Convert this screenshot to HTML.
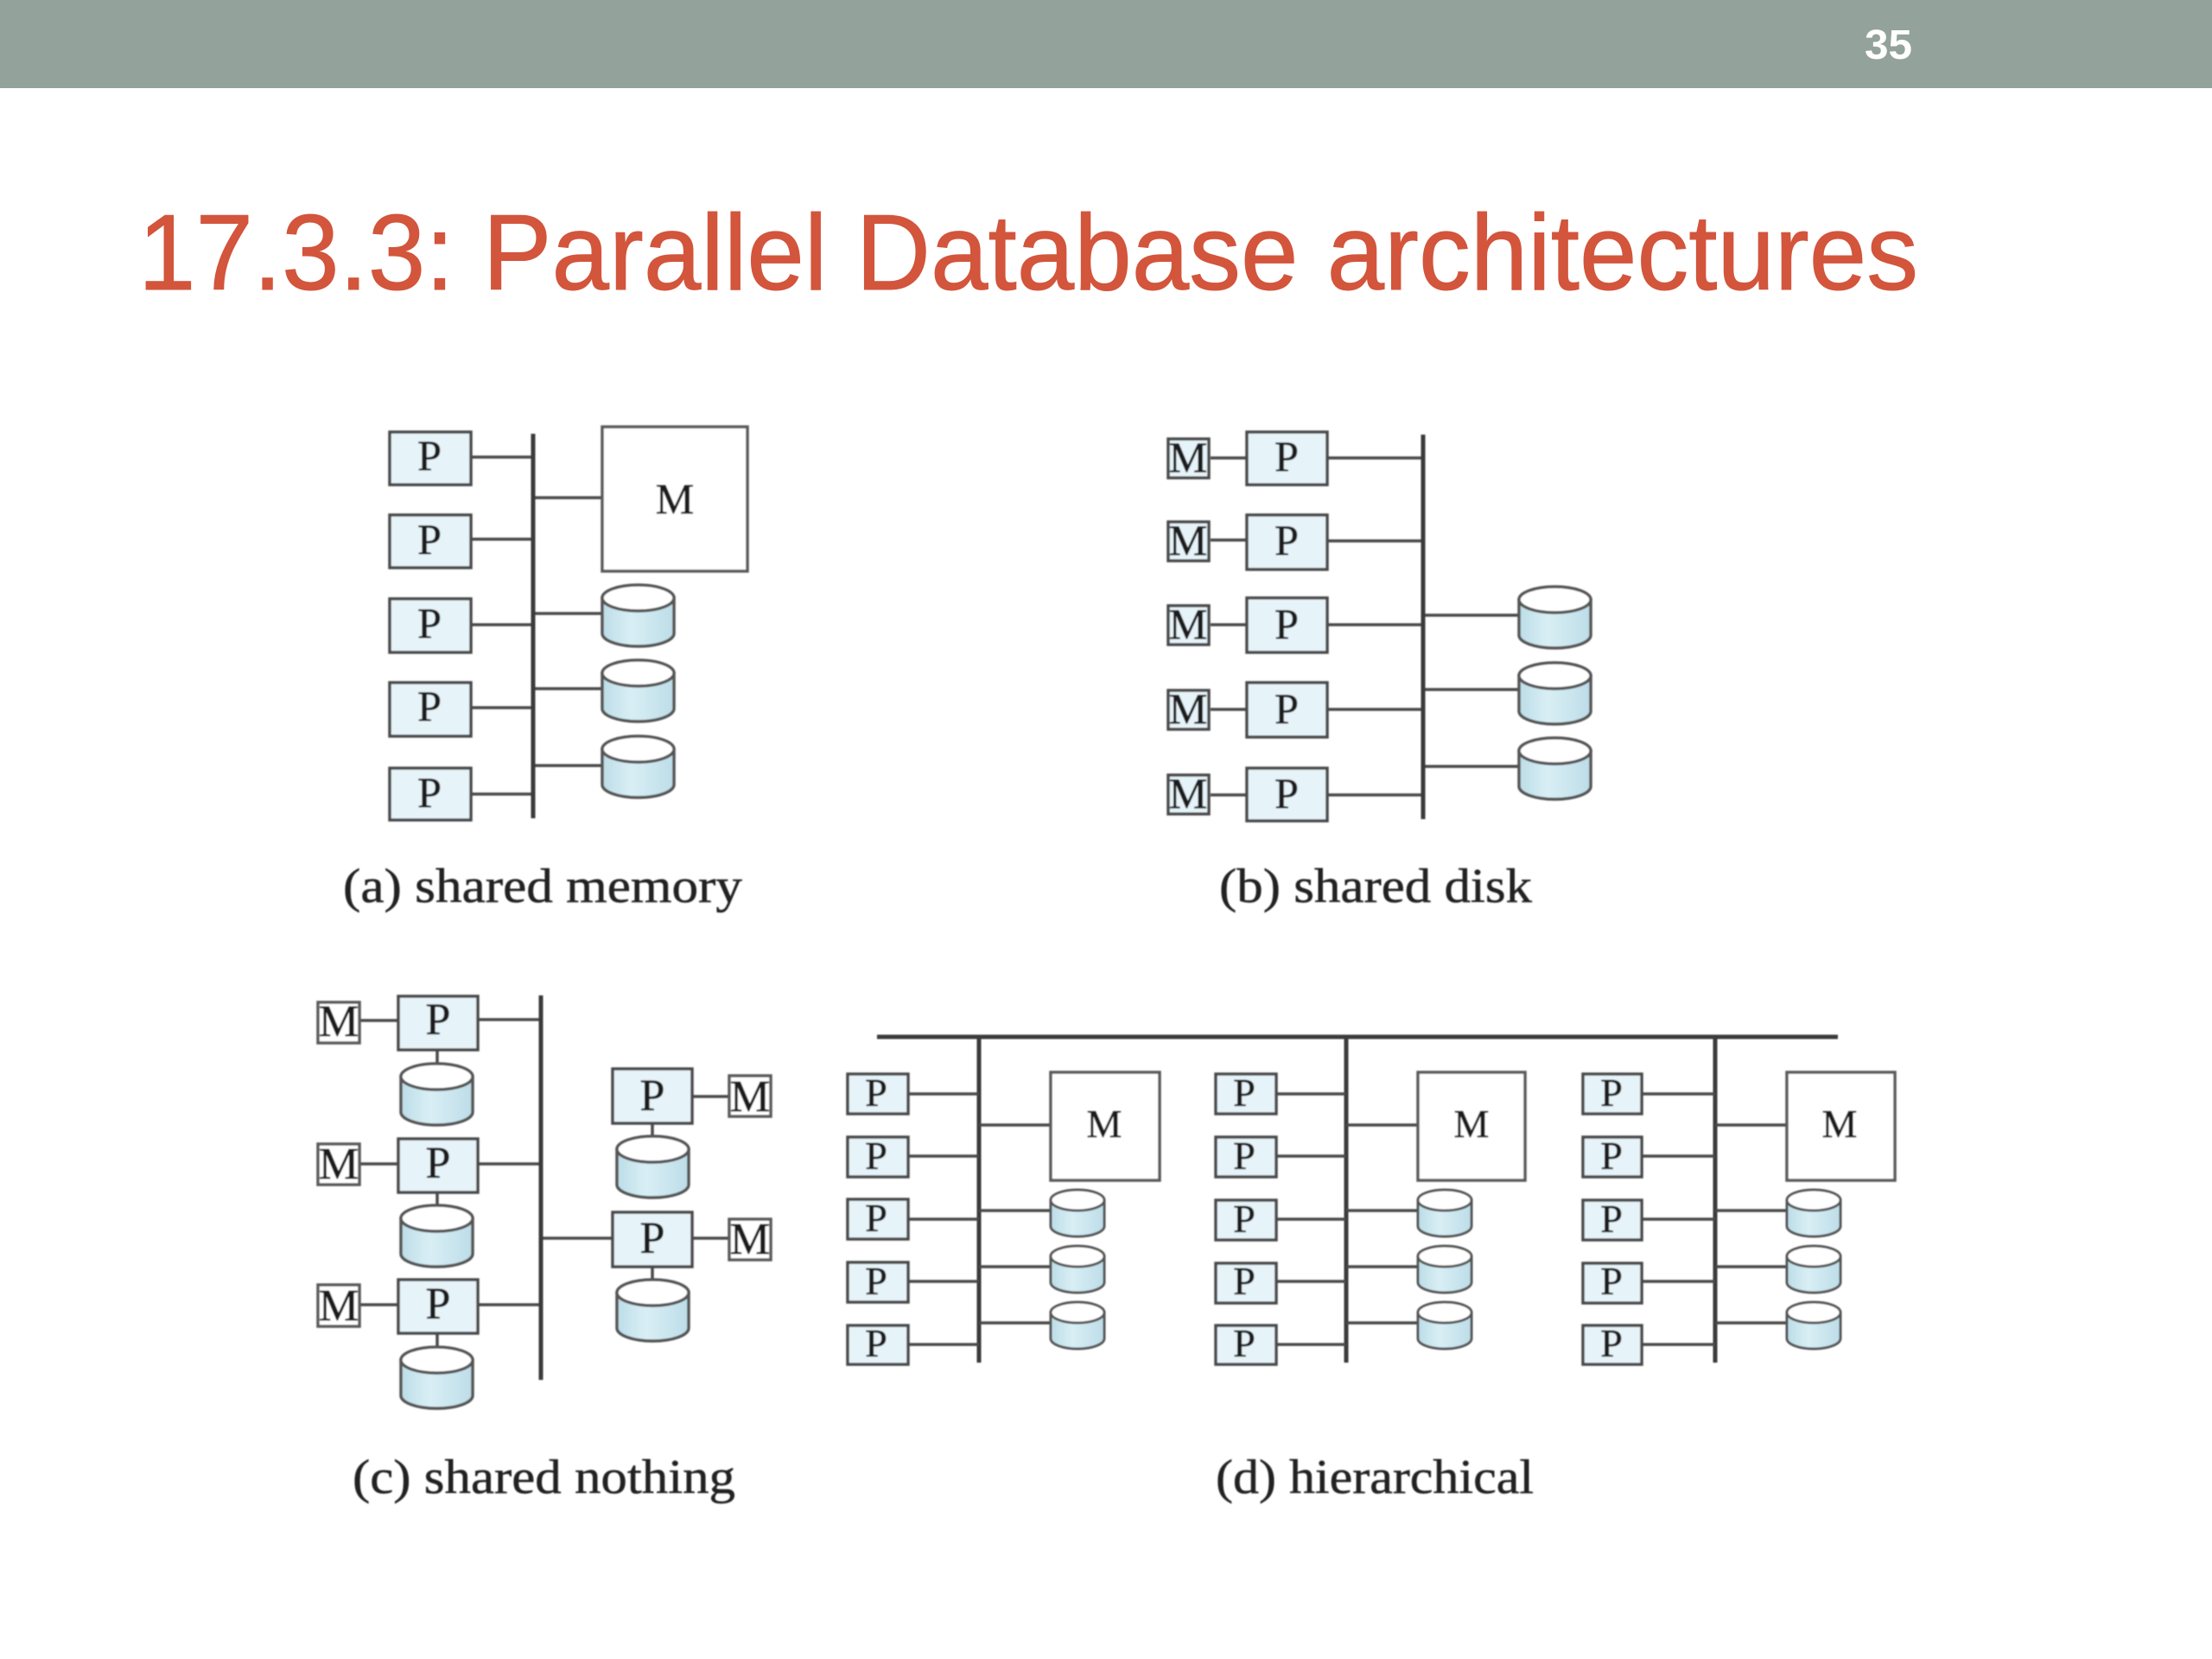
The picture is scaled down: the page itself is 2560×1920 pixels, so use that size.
<!DOCTYPE html>
<html>
<head>
<meta charset="utf-8">
<style>
html,body{margin:0;padding:0;background:#fff;width:2560px;height:1920px;overflow:hidden}
svg{display:block}
.hd{font-family:"Liberation Sans",sans-serif}
.t{font-family:"Liberation Serif",serif;fill:#1c1c1c;stroke:#1c1c1c;stroke-width:.7;text-anchor:middle}
.a{font-size:50px}
.c{font-size:52px}
.d{font-size:46px}
.cap{font-family:"Liberation Serif",serif;fill:#222;stroke:#222;stroke-width:.5;font-size:56px}
.p{fill:#e6f3f9;stroke:#4a4a4a;stroke-width:3.5}
.m{fill:#fff;stroke:#5a5a5a;stroke-width:3.5}
.l{stroke:#4a4a4a;stroke-width:3.5;fill:none}
.b{stroke:#3a3a3a;stroke-width:5;fill:none}
</style>
</head>
<body>
<svg width="2560" height="1920" viewBox="0 0 2560 1920" xmlns="http://www.w3.org/2000/svg">
<defs>
<linearGradient id="g" x1="0" x2="1" y1="0" y2="0">
<stop offset="0" stop-color="#bcdde7"/><stop offset=".4" stop-color="#d9eef5"/><stop offset="1" stop-color="#bddde8"/>
</linearGradient>
<filter id="bl" x="-2%" y="-2%" width="104%" height="104%"><feGaussianBlur stdDeviation="0.8"/></filter>
<g id="c1">
<path d="M0 15V56A41.5 15 0 0 0 83 56V15Z" fill="url(#g)" stroke="#555" stroke-width="3.5"/>
<ellipse cx="41.500" cy="15" rx="41.500" ry="15" fill="#fff" stroke="#555" stroke-width="3.5"/>
</g>
<g id="c3">
<path d="M0 12V42A31 12 0 0 0 62 42V12Z" fill="url(#g)" stroke="#555" stroke-width="3"/>
<ellipse cx="31" cy="12" rx="31" ry="12" fill="#fff" stroke="#555" stroke-width="3"/>
</g>
</defs>

<rect x="0" y="0" width="2560" height="102" fill="#93a29b"/>
<text class="hd" x="2158" y="68" font-size="48" font-weight="bold" fill="#fff" textLength="55" lengthAdjust="spacingAndGlyphs">35</text>
<text class="hd" x="160" y="335" font-size="124" fill="#d2553c" stroke="#d2553c" stroke-width="1" textLength="2060" lengthAdjust="spacingAndGlyphs">17.3.3: Parallel Database architectures</text>

<g filter="url(#bl)">
<!-- (a) -->
<g>
<path class="l" d="M545 529H617M545 624H617M545 723H617M545 819H617M545 919H617M617 576H697M617 710H697M617 797H697M617 886H697"/>
<path class="b" d="M617 502V947"/>
<rect class="p" x="451" y="500" width="94" height="61"/>
<rect class="p" x="451" y="596" width="94" height="61"/>
<rect class="p" x="451" y="693" width="94" height="62"/>
<rect class="p" x="451" y="790" width="94" height="62"/>
<rect class="p" x="451" y="889" width="94" height="60"/>
<rect class="m" x="697" y="494" width="168" height="167"/>
<text class="t a" x="497" y="544">P</text>
<text class="t a" x="497" y="641">P</text>
<text class="t a" x="497" y="738">P</text>
<text class="t a" x="497" y="834">P</text>
<text class="t a" x="497" y="934">P</text>
<text class="t a" x="781" y="594">M</text>
<use href="#c1" x="697" y="677"/>
<use href="#c1" x="697" y="764"/>
<use href="#c1" x="697" y="852"/>
<text class="cap" x="397" y="1044" textLength="462" lengthAdjust="spacingAndGlyphs">(a) shared memory</text>
</g>

<!-- (b) -->
<g>
<path class="l" d="M1401 530H1443M1401 625H1443M1401 723H1443M1401 821H1443M1401 920H1443M1536 530H1647M1536 626H1647M1536 723H1647M1536 821H1647M1536 920H1647M1647 712H1758M1647 798H1758M1647 887H1758"/>
<path class="b" d="M1647 503V948"/>
<rect class="p" x="1443" y="500" width="93" height="61"/>
<rect class="p" x="1443" y="596" width="93" height="63"/>
<rect class="p" x="1443" y="692" width="93" height="63"/>
<rect class="p" x="1443" y="790" width="93" height="63"/>
<rect class="p" x="1443" y="889" width="93" height="61"/>
<rect class="p" x="1352" y="508" width="47" height="45"/>
<rect class="p" x="1352" y="604" width="47" height="45"/>
<rect class="p" x="1352" y="701" width="47" height="45"/>
<rect class="p" x="1352" y="799" width="47" height="45"/>
<rect class="p" x="1352" y="897" width="47" height="45"/>
<text class="t a" x="1489" y="545">P</text>
<text class="t a" x="1489" y="642">P</text>
<text class="t a" x="1489" y="739">P</text>
<text class="t a" x="1489" y="837">P</text>
<text class="t a" x="1489" y="935">P</text>
<text class="t a" x="1375" y="546">M</text>
<text class="t a" x="1375" y="642">M</text>
<text class="t a" x="1375" y="739">M</text>
<text class="t a" x="1375" y="837">M</text>
<text class="t a" x="1375" y="935">M</text>
<use href="#c1" x="1758" y="679"/>
<use href="#c1" x="1758" y="767"/>
<use href="#c1" x="1758" y="854"/>
<text class="cap" x="1411" y="1044" textLength="362" lengthAdjust="spacingAndGlyphs">(b) shared disk</text>
</g>

<!-- (c) -->
<g>
<path class="l" d="M416 1181H461M416 1347H461M416 1510H461M553 1180H626M553 1347H626M553 1510H626M506 1215V1231M506 1380V1396M506 1543V1559M801 1269H844M801 1433H844M626 1433H709M755 1300V1314M755 1466V1481"/>
<path class="b" d="M626 1152V1597"/>
<rect class="p" x="461" y="1153" width="92" height="62"/>
<rect class="p" x="461" y="1318" width="92" height="62"/>
<rect class="p" x="461" y="1481" width="92" height="62"/>
<rect class="p" x="709" y="1237" width="92" height="63"/>
<rect class="p" x="709" y="1403" width="92" height="63"/>
<rect class="m" x="368" y="1160" width="48" height="47"/>
<rect class="m" x="368" y="1324" width="48" height="47"/>
<rect class="m" x="368" y="1487" width="48" height="48"/>
<rect class="m" x="844" y="1245" width="48" height="47"/>
<rect class="m" x="844" y="1411" width="48" height="47"/>
<text class="t c" x="507" y="1197">P</text>
<text class="t c" x="507" y="1363">P</text>
<text class="t c" x="507" y="1526">P</text>
<text class="t c" x="755" y="1285">P</text>
<text class="t c" x="755" y="1450">P</text>
<text class="t c" x="392" y="1199">M</text>
<text class="t c" x="392" y="1364">M</text>
<text class="t c" x="392" y="1528">M</text>
<text class="t c" x="868" y="1286">M</text>
<text class="t c" x="868" y="1451">M</text>
<use href="#c1" x="464" y="1231"/>
<use href="#c1" x="464" y="1395"/>
<use href="#c1" x="464" y="1559"/>
<use href="#c1" x="714" y="1315"/>
<use href="#c1" x="714" y="1481"/>
<text class="cap" x="408" y="1728" textLength="443" lengthAdjust="spacingAndGlyphs">(c) shared nothing</text>
</g>

<!-- (d) -->
<g>
<path class="b" d="M1015 1200H2127M1133 1200V1577M1558 1200V1577M1985 1200V1577"/>
<path class="l" d="M1051 1266H1133M1051 1338H1133M1051 1411H1133M1051 1483H1133M1051 1556H1133M1133 1302H1216M1133 1401H1216M1133 1466H1216M1133 1531H1216"/>
<path class="l" d="M1477 1266H1558M1477 1338H1558M1477 1411H1558M1477 1483H1558M1477 1556H1558M1558 1302H1641M1558 1401H1641M1558 1466H1641M1558 1531H1641"/>
<path class="l" d="M1900 1266H1985M1900 1338H1985M1900 1411H1985M1900 1483H1985M1900 1556H1985M1985 1302H2068M1985 1401H2068M1985 1466H2068M1985 1531H2068"/>
<rect class="p" x="981" y="1243" width="70" height="46"/>
<rect class="p" x="981" y="1316" width="70" height="46"/>
<rect class="p" x="981" y="1388" width="70" height="46"/>
<rect class="p" x="981" y="1461" width="70" height="46"/>
<rect class="p" x="981" y="1534" width="70" height="45"/>
<rect class="p" x="1407" y="1243" width="70" height="46"/>
<rect class="p" x="1407" y="1316" width="70" height="46"/>
<rect class="p" x="1407" y="1389" width="70" height="46"/>
<rect class="p" x="1407" y="1462" width="70" height="46"/>
<rect class="p" x="1407" y="1534" width="70" height="45"/>
<rect class="p" x="1832" y="1243" width="68" height="46"/>
<rect class="p" x="1832" y="1316" width="68" height="46"/>
<rect class="p" x="1832" y="1389" width="68" height="46"/>
<rect class="p" x="1832" y="1462" width="68" height="46"/>
<rect class="p" x="1832" y="1534" width="68" height="45"/>
<rect class="m" x="1216" y="1241" width="126" height="125"/>
<rect class="m" x="1641" y="1241" width="124" height="125"/>
<rect class="m" x="2068" y="1241" width="125" height="125"/>
<text class="t d" x="1014" y="1280">P</text>
<text class="t d" x="1014" y="1353">P</text>
<text class="t d" x="1014" y="1425">P</text>
<text class="t d" x="1014" y="1498">P</text>
<text class="t d" x="1014" y="1570">P</text>
<text class="t d" x="1440" y="1280">P</text>
<text class="t d" x="1440" y="1353">P</text>
<text class="t d" x="1440" y="1426">P</text>
<text class="t d" x="1440" y="1498">P</text>
<text class="t d" x="1440" y="1570">P</text>
<text class="t d" x="1865" y="1280">P</text>
<text class="t d" x="1865" y="1353">P</text>
<text class="t d" x="1865" y="1426">P</text>
<text class="t d" x="1865" y="1498">P</text>
<text class="t d" x="1865" y="1570">P</text>
<text class="t d" x="1278" y="1316">M</text>
<text class="t d" x="1703" y="1316">M</text>
<text class="t d" x="2129" y="1316">M</text>
<use href="#c3" x="1216" y="1377"/>
<use href="#c3" x="1216" y="1442"/>
<use href="#c3" x="1216" y="1507"/>
<use href="#c3" x="1641" y="1377"/>
<use href="#c3" x="1641" y="1442"/>
<use href="#c3" x="1641" y="1507"/>
<use href="#c3" x="2068" y="1377"/>
<use href="#c3" x="2068" y="1442"/>
<use href="#c3" x="2068" y="1507"/>
<text class="cap" x="1407" y="1728" textLength="368" lengthAdjust="spacingAndGlyphs">(d) hierarchical</text>
</g>
</g>
</svg>
</body>
</html>
